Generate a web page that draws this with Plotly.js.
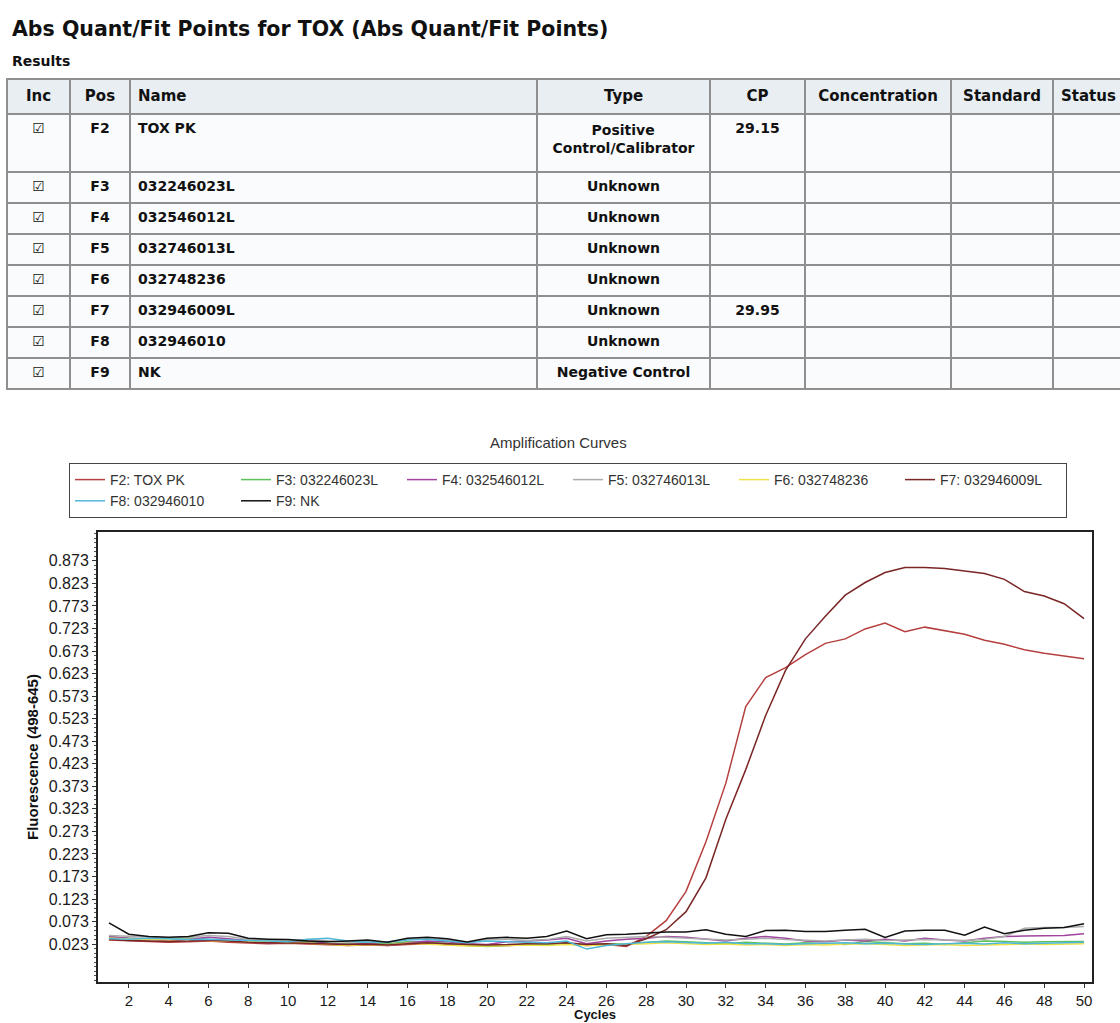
<!DOCTYPE html>
<html><head><meta charset="utf-8">
<script src="https://cdn.plot.ly/plotly-3.0.1.min.js"></script>
<style>
html,body{margin:0;padding:0;background:#fff;overflow:hidden;width:1120px;height:1023px;position:relative;}
#tbl{position:absolute;left:0;top:0;width:1200px;height:400px;}
#amp{position:absolute;left:0;top:400px;width:1120px;height:623px;}
</style></head><body>
<div id="tbl"></div><div id="amp"></div>
<script>
// ---------- table data ----------
const headers = ['Inc','Pos','Name','Type','CP','Concentration','Standard','Status'];
const incCol = ['☑','☑','☑','☑','☑','☑','☑','☑'];
const posCol = ['F2','F3','F4','F5','F6','F7','F8','F9'];
const nameCol = ['TOX PK','032246023L','032546012L','032746013L','032748236','032946009L','032946010','NK'];
const typeCol = ['Positive|Control/Calibrator','Unknown','Unknown','Unknown','Unknown','Unknown','Unknown','Negative Control'];
const cpCol = ['29.15','','','','','29.95','',''];
const concCol = ['','','','','','','',''];
const standardCol = ['','','','','','','',''];
const statusCol = ['','','','','','','',''];

// ---------- amplification data ----------
const cycles = [1,2,3,4,5,6,7,8,9,10,11,12,13,14,15,16,17,18,19,20,21,22,23,24,25,26,27,28,29,30,31,32,33,34,35,36,37,38,39,40,41,42,43,44,45,46,47,48,49,50];
const f2 = [0.032,0.030,0.028,0.027,0.028,0.030,0.027,0.025,0.024,0.025,0.023,0.021,0.020,0.021,0.020,0.022,0.024,0.022,0.020,0.019,0.020,0.022,0.023,0.024,0.020,0.022,0.018,0.040,0.075,0.140,0.250,0.380,0.550,0.614,0.636,0.665,0.690,0.700,0.722,0.735,0.716,0.726,0.718,0.710,0.697,0.688,0.676,0.668,0.662,0.656];
const f3 = [0.038,0.036,0.034,0.036,0.037,0.033,0.031,0.030,0.028,0.027,0.029,0.025,0.024,0.026,0.024,0.028,0.027,0.025,0.020,0.018,0.020,0.023,0.022,0.025,0.022,0.024,0.023,0.027,0.030,0.028,0.026,0.024,0.027,0.025,0.023,0.026,0.024,0.022,0.029,0.027,0.024,0.025,0.022,0.026,0.030,0.029,0.027,0.028,0.028,0.029];
const f4 = [0.040,0.036,0.035,0.030,0.034,0.038,0.035,0.030,0.026,0.028,0.032,0.024,0.022,0.025,0.020,0.026,0.030,0.028,0.024,0.022,0.028,0.030,0.032,0.036,0.024,0.030,0.034,0.036,0.040,0.038,0.034,0.030,0.036,0.040,0.036,0.030,0.028,0.032,0.030,0.034,0.030,0.036,0.032,0.030,0.036,0.040,0.041,0.041,0.042,0.046];
const f5 = [0.042,0.040,0.038,0.037,0.039,0.042,0.040,0.034,0.032,0.031,0.033,0.030,0.027,0.029,0.026,0.034,0.035,0.032,0.026,0.033,0.034,0.031,0.033,0.040,0.030,0.036,0.038,0.040,0.038,0.036,0.034,0.032,0.034,0.036,0.033,0.031,0.030,0.032,0.034,0.031,0.032,0.033,0.032,0.031,0.034,0.040,0.058,0.060,0.060,0.062];
const f6 = [0.036,0.034,0.033,0.032,0.034,0.031,0.030,0.028,0.029,0.026,0.025,0.023,0.020,0.022,0.021,0.025,0.023,0.021,0.019,0.019,0.020,0.021,0.020,0.022,0.020,0.021,0.022,0.024,0.026,0.024,0.022,0.023,0.021,0.022,0.020,0.022,0.021,0.023,0.024,0.022,0.020,0.021,0.022,0.020,0.021,0.022,0.023,0.022,0.023,0.024];
const f7 = [0.034,0.031,0.030,0.029,0.030,0.032,0.030,0.027,0.026,0.026,0.025,0.023,0.022,0.023,0.021,0.024,0.026,0.024,0.022,0.021,0.022,0.024,0.024,0.026,0.022,0.024,0.020,0.035,0.055,0.095,0.170,0.300,0.410,0.530,0.630,0.700,0.750,0.797,0.825,0.847,0.858,0.858,0.856,0.850,0.845,0.832,0.805,0.795,0.778,0.745];
const f8 = [0.035,0.034,0.036,0.035,0.033,0.034,0.032,0.031,0.030,0.028,0.034,0.036,0.030,0.027,0.028,0.032,0.034,0.030,0.026,0.030,0.028,0.027,0.026,0.030,0.012,0.020,0.024,0.027,0.028,0.026,0.025,0.027,0.024,0.024,0.022,0.024,0.025,0.026,0.024,0.025,0.023,0.022,0.024,0.025,0.023,0.026,0.024,0.025,0.026,0.027];
const f9 = [0.070,0.045,0.040,0.038,0.040,0.048,0.047,0.036,0.034,0.033,0.030,0.028,0.030,0.032,0.027,0.036,0.038,0.035,0.028,0.036,0.038,0.036,0.040,0.052,0.035,0.044,0.045,0.048,0.050,0.050,0.055,0.045,0.040,0.053,0.054,0.051,0.051,0.054,0.056,0.038,0.052,0.054,0.054,0.043,0.061,0.046,0.054,0.058,0.060,0.068];
const yTickVals = [0.023,0.073,0.123,0.173,0.223,0.273,0.323,0.373,0.423,0.473,0.523,0.573,0.623,0.673,0.723,0.773,0.823,0.873];

const FONT = 'Liberation Sans, Arial, Helvetica, sans-serif';
const TFONT = 'DejaVu Sans, Verdana, sans-serif';
const NB = '\u00a0';

// ---------- table figure ----------
const W1 = 1200, H1 = 400;
const px = v => v / W1;
const py = v => 1 - v / H1;
// two-line type cell: pad the short first line so both lines look centred
const typeShown = typeCol.map(t => {
  if (t.indexOf('|') < 0) return t;
  const parts = t.split('|');
  return NB.repeat(8) + parts[0] + '<br>' + parts[1];
});
// invisible two-line spacer (slightly larger font) gives the two-line row its taller height
const concShown = concCol.map((c, i) => i === 0 ? NB + '<br>' + NB : c);
const concSizes = concCol.map((c, i) => i === 0 ? 17 : 14);

const tblTrace = {
  type: 'table',
  domain: {x: [px(7), px(1170)], y: [py(398), py(79)]},
  columnwidth: [63, 60, 407, 173, 95, 146, 102, 117],
  header: {
    values: headers.map(h => '<b>' + h + '</b>'),
    align: ['center','center','left','center','center','center','center','left'],
    fill: {color: '#e9eef2'},
    line: {color: '#8f8f8f', width: 2},
    font: {family: TFONT, size: 15, color: '#111'},
    height: 35
  },
  cells: {
    values: [incCol, posCol, nameCol, typeShown, cpCol, concShown, standardCol, statusCol],
    align: ['center','center','left','center','center','center','center','left'],
    fill: {color: '#fafbfc'},
    line: {color: '#8f8f8f', width: 2},
    font: {family: TFONT, size: [14, 14, 14, 14, 14, concSizes, 14, 14], color: '#111', weight: 'bold'},
    height: 31
  }
};
Plotly.newPlot('tbl', [tblTrace], {
  width: W1, height: H1,
  margin: {l: 0, r: 0, t: 0, b: 0},
  paper_bgcolor: '#fff',
  annotations: [
    {text: '<b>Abs Quant/Fit Points for TOX (Abs Quant/Fit Points)</b>', xref: 'paper', yref: 'paper',
     x: px(10), y: py(29), xanchor: 'left', yanchor: 'middle', showarrow: false,
     font: {family: TFONT, size: 20.5, color: '#111'}},
    {text: '<b>Results</b>', xref: 'paper', yref: 'paper',
     x: px(10), y: py(61), xanchor: 'left', yanchor: 'middle', showarrow: false,
     font: {family: TFONT, size: 14, color: '#111'}}
  ]
}, {displayModeBar: false, staticPlot: true});

// ---------- amplification figure ----------
const series = [f2, f3, f4, f5, f6, f7, f8, f9];
const colors = ['#b5403f', '#5cc05c', '#a044a0', '#ababab', '#f0e04a', '#7a2626', '#4fb8d8', '#111111'];
const traces = series.map((s, i) => ({
  type: 'scatter', mode: 'lines', x: cycles, y: s,
  name: posCol[i] + ': ' + nameCol[i],
  line: {color: colors[i], width: 1.5}
}));

const TOP = 400, ML = 98, MR = 28, MT = 532 - TOP, MB = 1023 - 982, W2 = 1120, H2 = 623;
const gw = W2 - ML - MR, gh = H2 - MT - MB;
const ax = v => (v - ML) / gw;          // page x -> paper x
const ay = v => 1 - (v - 532) / gh;     // page y -> paper y
Plotly.newPlot('amp', traces, {
  width: W2, height: H2,
  margin: {l: ML, r: MR, t: MT, b: MB, autoexpand: false},
  paper_bgcolor: '#fff', plot_bgcolor: '#fff',
  font: {family: FONT, color: '#222'},
  showlegend: true,
  legend: {
    orientation: 'h', x: ax(69), xanchor: 'left',
    y: ay(463), yanchor: 'top',
    bordercolor: '#444', borderwidth: 1, bgcolor: '#fff',
    font: {family: FONT, size: 14, color: '#333'},
    entrywidth: 121, entrywidthmode: 'pixels', traceorder: 'normal'
  },
  xaxis: {
    range: [0.45, 50.4], tick0: 0, dtick: 2, ticks: 'outside', ticklen: 4, tickcolor: '#333',
    showline: true, mirror: true, linecolor: '#222', linewidth: 2, showgrid: false, zeroline: false,
    tickfont: {family: FONT, size: 15, color: '#1a1a1a'}
  },
  yaxis: {
    range: [-0.061, 0.937], tickmode: 'array', tickvals: yTickVals, tickformat: '.3f',
    ticks: 'outside', ticklen: 4, tickcolor: '#333',
    minor: {tick0: 0.023, dtick: 0.01, ticks: 'outside', ticklen: 2, tickcolor: '#555'},
    showline: true, mirror: true, linecolor: '#222', linewidth: 2, showgrid: false, zeroline: false,
    tickfont: {family: FONT, size: 16, color: '#1a1a1a'}
  },
  annotations: [
    {text: 'Amplification Curves', xref: 'paper', yref: 'paper',
     x: ax(558), y: ay(442), xanchor: 'center', yanchor: 'middle', showarrow: false,
     font: {family: FONT, size: 15, color: '#333'}},
    {text: '<b>Fluorescence (498-645)</b>', xref: 'paper', yref: 'paper', textangle: -90,
     x: ax(32), y: ay(757), xanchor: 'center', yanchor: 'middle', showarrow: false,
     font: {family: FONT, size: 15, color: '#111'}},
    {text: '<b>Cycles</b>', xref: 'paper', yref: 'paper',
     x: ax(595), y: ay(1024), xanchor: 'center', yanchor: 'bottom', showarrow: false,
     font: {family: FONT, size: 13, color: '#111'}}
  ]
}, {displayModeBar: false, staticPlot: true});
</script>
</body></html>
